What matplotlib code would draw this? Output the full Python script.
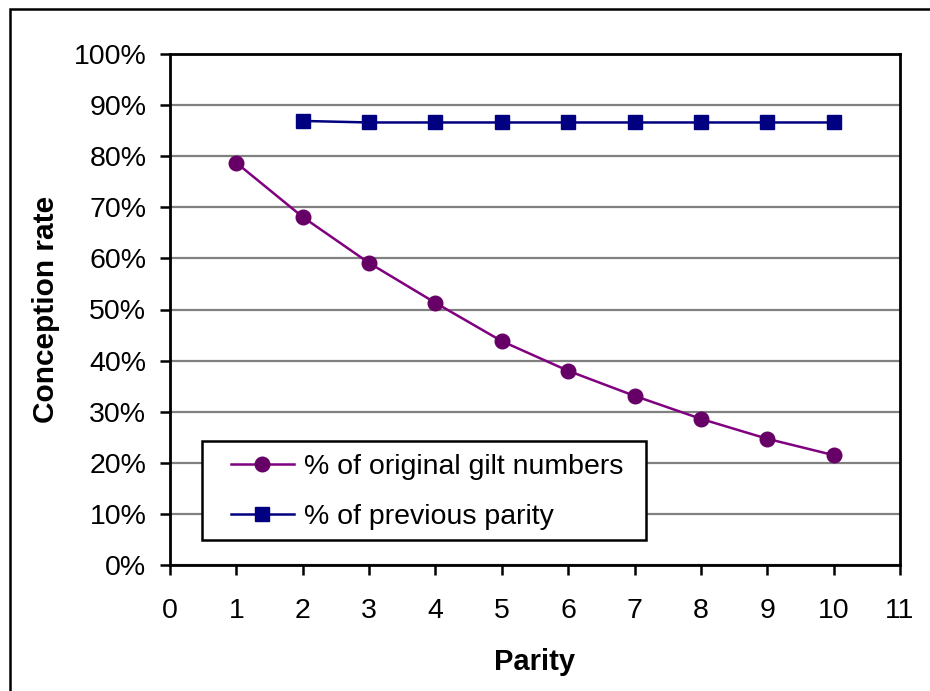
import matplotlib.pyplot as plt
from matplotlib.patches import Rectangle
from matplotlib.ticker import PercentFormatter

plt.rcParams['font.family'] = ['Liberation Sans', 'DejaVu Sans']

# data
parity = [1, 2, 3, 4, 5, 6, 7, 8, 9, 10]
pct_original = [78.7, 68.1, 59.1, 51.3, 43.8, 38.0, 33.1, 28.6, 24.7, 21.5]
parity_prev = [2, 3, 4, 5, 6, 7, 8, 9, 10]
pct_previous = [86.9, 86.6, 86.6, 86.6, 86.6, 86.6, 86.6, 86.6, 86.6]

fig = plt.figure(figsize=(9.3, 6.91), dpi=100)
ax = fig.add_axes([170 / 930, 1 - 565 / 691, 730 / 930, 511 / 691])

# outer chart border (right/bottom run off the picture)
fig.patches.append(Rectangle((10 / 930, -0.05), 1.2, 1 - 9 / 691 + 0.05,
                             transform=fig.transFigure, fill=False,
                             edgecolor='black', linewidth=1.8))

ax.plot(parity, pct_original, color='#800080', linewidth=1.8, marker='o',
        markersize=10.5, markerfacecolor='#660066', markeredgecolor='#660066',
        label='% of original gilt numbers', zorder=3)
ax.plot(parity_prev, pct_previous, color='#000080', linewidth=1.8, marker='s',
        markersize=10.5, markerfacecolor='#000080', markeredgecolor='#000080',
        label='% of previous parity', zorder=3)

ax.set_xlim(0, 11)
ax.set_ylim(0, 100)
ax.set_xticks(range(0, 12))
ax.set_yticks(range(0, 101, 10))
ax.yaxis.set_major_formatter(PercentFormatter(decimals=0))
ax.grid(axis='y', color='#808080', linewidth=1.6)
ax.set_axisbelow(True)

for side in ax.spines.values():
    side.set_linewidth(2)
    side.set_color('black')

ax.tick_params(axis='both', direction='out', length=7, width=1.8,
               labelsize=20.5)
ax.tick_params(axis='y', pad=10)
ax.tick_params(axis='x', pad=17)

ax.set_xlabel('Parity', fontsize=21, fontweight='bold', labelpad=17)
ax.set_ylabel('Conception rate', fontsize=21.5, fontweight='bold', labelpad=10)

# legend box drawn separately so its padding matches the reference
ax.add_patch(Rectangle((32 / 730, 25 / 511), 444 / 730, 99 / 511,
                       transform=ax.transAxes, facecolor='white',
                       edgecolor='black', linewidth=1.8, zorder=4))
leg = ax.legend(loc='upper left', bbox_to_anchor=(61 / 730, 111 / 511),
                borderaxespad=0, borderpad=0, fontsize=20.5, frameon=False,
                handlelength=2.2, handletextpad=0.35, labelspacing=0.85)
leg.set_zorder(5)

fig.savefig('out.png', dpi=100)
